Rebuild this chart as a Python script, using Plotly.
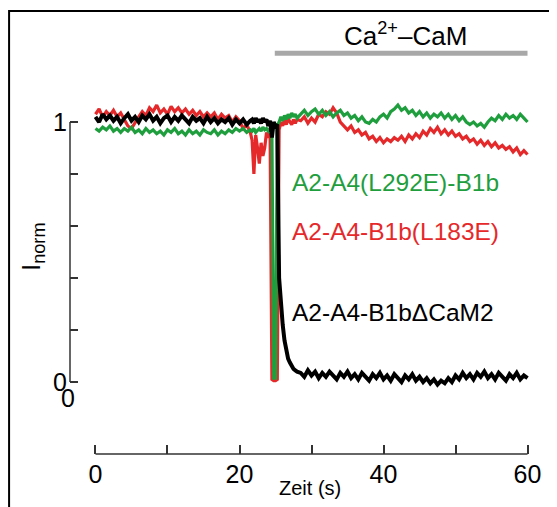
import plotly.graph_objects as go

# time axis (s): 0.5 s steps, 0.25 s steps around the Ca2+-CaM application
time_s = [
    0, 0.5, 1, 1.5, 2, 2.5, 3, 3.5,
    4, 4.5, 5, 5.5, 6, 6.5, 7, 7.5,
    8, 8.5, 9, 9.5, 10, 10.5, 11, 11.5,
    12, 12.5, 13, 13.5, 14, 14.5, 15, 15.5,
    16, 16.5, 17, 17.5, 18, 18.5, 19, 19.5,
    20, 20.5, 21, 21.5,
    21.75, 22, 22.25, 22.5, 22.75, 23, 23.25, 23.5,
    23.75, 24, 24.25, 24.5, 24.75, 25, 25.25, 25.5,
    25.75, 26, 26.25, 26.5, 26.75, 27, 27.25, 27.5,
    27.75, 28,
    28.5, 29, 29.5, 30, 30.5, 31, 31.5, 32,
    32.5, 33, 33.5, 34, 34.5, 35, 35.5, 36,
    36.5, 37, 37.5, 38, 38.5, 39, 39.5, 40,
    40.5, 41, 41.5, 42, 42.5, 43, 43.5, 44,
    44.5, 45, 45.5, 46, 46.5, 47, 47.5, 48,
    48.5, 49, 49.5, 50, 50.5, 51, 51.5, 52,
    52.5, 53, 53.5, 54, 54.5, 55, 55.5, 56,
    56.5, 57, 57.5, 58, 58.5, 59, 59.5, 60,
]

# A2-A4(L292E)-B1b
green_norm = [
    0.975, 0.965, 0.98, 0.97, 0.985, 0.965, 0.975, 0.96,
    0.975, 0.965, 0.98, 0.96, 0.97, 0.955, 0.975, 0.96,
    0.97, 0.955, 0.965, 0.95, 0.97, 0.96, 0.975, 0.955,
    0.965, 0.95, 0.97, 0.955, 0.965, 0.95, 0.97, 0.96,
    0.955, 0.97, 0.95, 0.965, 0.955, 0.97, 0.96, 0.975,
    0.965, 0.975, 0.96, 0.97,
    0.965, 0.975, 0.96, 0.97, 0.975, 0.965, 0.98, 0.97,
    0.975, 0.965, 0.975, 0.965, 0.015, 0.015, 0.985, 1.0,
    1.02, 1.005, 1.025, 1.01, 1.03, 1.015, 1.035, 1.02,
    1.03, 1.015,
    1.03, 1.045, 1.025, 1.04, 1.05, 1.03, 1.045, 1.025,
    1.04, 1.02, 1.035, 1.045, 1.025, 1.035, 1.015, 1.025,
    1.005, 1.02, 1.0, 0.995, 1.01, 1.0, 1.02, 1.03,
    1.015, 1.04, 1.05, 1.065, 1.045, 1.055, 1.035, 1.045,
    1.025, 1.04, 1.02, 1.035, 1.015, 1.03, 1.02, 1.035,
    1.015, 1.03, 1.01, 1.025, 1.005, 1.02, 1.0, 0.99,
    1.0, 0.985, 0.995, 0.98, 1.0, 1.015, 1.005, 1.025,
    1.01, 1.03, 1.015, 1.025, 1.01, 1.03, 1.015, 1.0,
]

# A2-A4-B1b(L183E)
red_norm = [
    1.03, 1.05, 1.02, 1.04, 1.025, 1.045, 1.02, 1.035,
    1.01, 0.985, 0.975, 1.0, 1.02, 1.04, 1.025, 1.055,
    1.04, 1.065, 1.035, 1.05, 1.03, 1.06, 1.04, 1.055,
    1.035, 1.05, 1.03, 1.045, 1.025, 1.04, 1.02, 1.035,
    1.02, 1.035, 1.01, 1.03, 1.015, 1.025, 1.0, 1.02,
    1.005, 0.975, 0.99, 0.96,
    0.93, 0.80, 0.95, 0.9, 0.84, 0.92, 0.87, 0.9,
    0.96, 0.94, 0.955, 0.01, 0.005, 0.005, 0.01, 0.97,
    1.0, 0.985, 1.01, 0.99, 1.015, 1.0, 0.99, 1.01,
    0.995, 1.01,
    1.005, 1.02, 0.995, 1.015, 1.0, 1.03, 1.02, 1.04,
    1.03, 1.055, 1.035, 1.0, 0.985, 0.97, 0.985, 0.96,
    0.97, 0.95, 0.96, 0.935, 0.945, 0.925, 0.94, 0.92,
    0.935, 0.925, 0.94, 0.93, 0.945, 0.925, 0.95, 0.935,
    0.955, 0.94, 0.965, 0.95, 0.975, 0.96, 0.98, 0.955,
    0.97, 0.95, 0.965, 0.945, 0.955, 0.935, 0.945, 0.925,
    0.935, 0.915, 0.93, 0.91, 0.925, 0.905, 0.92, 0.9,
    0.91, 0.895, 0.905, 0.885, 0.9, 0.875, 0.89, 0.875,
]

# A2-A4-B1bΔCaM2
black_norm = [
    1.02, 1.0, 1.03, 1.01, 1.025, 1.005, 1.02, 0.995,
    1.015, 1.03, 1.005, 1.02, 1.0, 1.025, 1.01, 1.03,
    1.005, 1.02, 0.995, 1.015, 1.025, 1.0, 1.02, 1.005,
    1.025, 1.01, 0.995, 1.02, 1.005, 1.015, 0.995, 1.02,
    1.0, 1.015, 0.995, 1.01, 1.0, 1.015, 0.99, 1.01,
    0.995, 1.01, 0.99, 1.005,
    1.01, 0.995, 1.015, 1.0, 1.01, 0.995, 1.015, 1.0,
    1.01, 0.985, 1.005, 0.94, 1.0, 0.985, 0.99, 0.40,
    0.30, 0.22, 0.16, 0.12, 0.09, 0.075, 0.06, 0.05,
    0.045, 0.04,
    0.035, 0.02, 0.045, 0.025, 0.04, 0.015, 0.035, 0.02,
    0.04, 0.025, 0.01, 0.035, 0.02, 0.04, 0.015, 0.03,
    0.01, 0.035, 0.02, 0.005, 0.03, 0.015, 0.035, 0.01,
    0.025, 0.005, 0.03, 0.015, 0.0, 0.025, 0.01, 0.03,
    0.005, 0.02, 0.0, 0.015, -0.005, 0.01, -0.01, 0.005,
    -0.005, 0.015, 0.0, 0.025, 0.01, 0.035, 0.015, 0.03,
    0.01, 0.035, 0.02, 0.04, 0.015, 0.03, 0.01, 0.035,
    0.02, 0.005, 0.03, 0.015, 0.035, 0.01, 0.025, 0.015,
]

cam_window = [24.9, 60]
cam_level = 1.265

x_ticks = [0, 20, 40, 60]
x_minor = [10, 30, 50]
y_ticks = [0, 1]
y_minor = [0.2, 0.4, 0.6, 0.8]

GREEN = "#1f9e3e"
RED = "#e5292b"
AXIS = "#333333"
FONT = "Liberation Sans, Arial, sans-serif"

fig = go.Figure()
fig.add_trace(go.Scatter(x=time_s, y=red_norm, mode="lines", line=dict(color=RED, width=3.2)))
fig.add_trace(go.Scatter(x=time_s, y=green_norm, mode="lines", line=dict(color=GREEN, width=3.2)))
fig.add_trace(go.Scatter(x=time_s, y=black_norm, mode="lines", line=dict(color="black", width=4)))
# Ca2+-CaM application bar
fig.add_trace(go.Scatter(x=cam_window, y=[cam_level, cam_level], mode="lines",
                         line=dict(color="#a8a8a8", width=5)))

# axis lines only over the data range
fig.add_shape(type="line", xref="paper", yref="y", x0=0, x1=0, y0=0, y1=1,
              line=dict(color=AXIS, width=1.5))
fig.add_shape(type="line", xref="x", yref="paper", x0=0, x1=60, y0=0, y1=0,
              line=dict(color=AXIS, width=1.5))
# panel frame (cut at right and bottom)
fig.add_shape(type="rect", xref="paper", yref="paper", x0=-0.131, x1=1.3, y0=-0.3, y1=1.045,
              line=dict(color="black", width=2))

labels = [
    ("A2-A4(L292E)-B1b", 0.769, GREEN),
    ("A2-A4-B1b(L183E)", 0.577, RED),
    ("A2-A4-B1bΔCaM2", 0.269, "black"),
]
for text, yv, col in labels:
    fig.add_annotation(x=27.0, y=yv, xref="x", yref="y", text=text, showarrow=False,
                       xanchor="left", yanchor="middle", font=dict(family=FONT, size=24.5, color=col))

fig.add_annotation(x=43.1, y=1.335, xref="x", yref="y", text="Ca<sup>2+</sup>–CaM", showarrow=False,
                   font=dict(family=FONT, size=26, color="black"))
fig.add_annotation(x=29.8, y=-0.08, xref="x", yref="paper", text="Zeit (s)", showarrow=False,
                   xanchor="center", yanchor="middle",
                   font=dict(family=FONT, size=20, color="black"))
fig.add_annotation(x=-0.0817, y=0.488, xref="paper", yref="paper", text="I<sub>norm</sub>",
                   textangle=-90, showarrow=False, xanchor="center", yanchor="middle",
                   font=dict(family=FONT, size=26, color="black"))
fig.add_annotation(x=-0.004, y=-0.063, xref="paper", yref="y", text="0", showarrow=False,
                   xanchor="center", yanchor="middle",
                   font=dict(family=FONT, size=25, color="black"))

# page has an 8 px body margin, so the figure is 8 px smaller than the window
fig.update_layout(
    width=549,
    height=499,
    margin=dict(l=62, r=22, t=22, b=53),
    plot_bgcolor="white",
    paper_bgcolor="white",
    showlegend=False,
    font=dict(family=FONT, size=25, color="black"),
)
fig.update_xaxes(range=[-3.54, 61.04], showgrid=False, zeroline=False, showline=False,
                 tickmode="array", tickvals=x_ticks, ticklabelstandoff=3,
                 ticks="inside", ticklen=9, tickwidth=1.5, tickcolor=AXIS,
                 minor=dict(tickmode="array", tickvals=x_minor, ticks="inside", ticklen=9,
                            tickwidth=1.5, tickcolor=AXIS, showgrid=False),
                 tickfont=dict(family=FONT, size=25, color="black"))
fig.update_yaxes(range=[-0.277, 1.354], showgrid=False, zeroline=False, showline=False,
                 tickmode="array", tickvals=y_ticks, ticklabelstandoff=2,
                 ticks="inside", ticklen=8, tickwidth=1.5, tickcolor=AXIS,
                 minor=dict(tickmode="array", tickvals=y_minor, ticks="inside", ticklen=8,
                            tickwidth=1.5, tickcolor=AXIS, showgrid=False),
                 tickfont=dict(family=FONT, size=25, color="black"))

fig.write_html("out.html")
